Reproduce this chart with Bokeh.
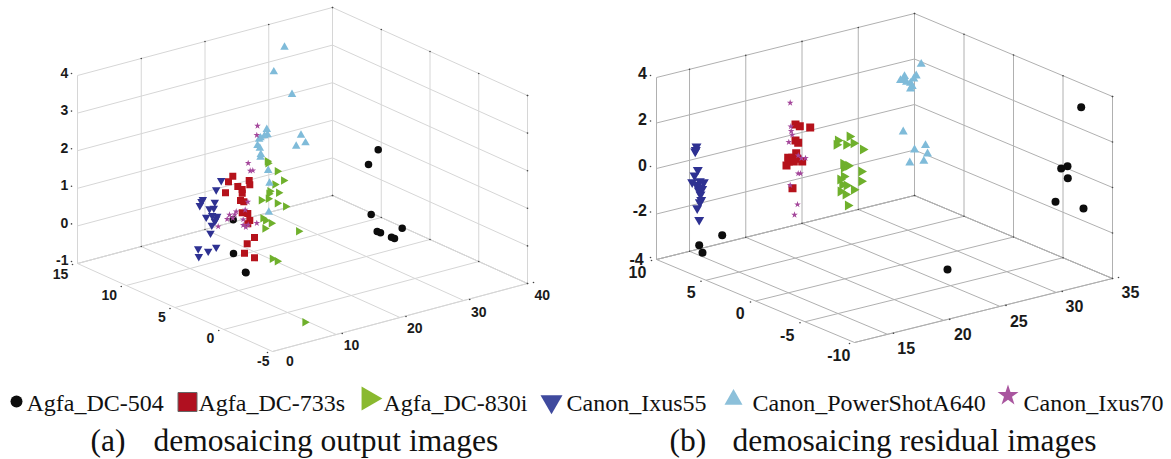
import math
from bokeh.plotting import figure
from bokeh.models import Range1d
from bokeh.core.properties import value
from bokeh.embed import file_html
from bokeh.resources import INLINE

# ---- series (horizontal / vertical plot position) ----
a_black_h = [377.7,368,370.7,401.7,376.7,380,391,394,232.7,233,245,245.5]
a_black_v = [149.3,164,214,227.7,231,232.3,236.7,238,219.3,253,271.7,272.3]
a_red_h = [232.3,228,248.7,249.3,237.3,241.7,241.7,225,240,243.3,241.7,247.3,249.3,247.3,254,246.7,244,254]
a_red_v = [175.7,181.3,180,184.3,186,189,192.7,192.3,200,201.3,212.3,213,220,223.3,237,243.3,252.7,257.3]
a_green_h = [266.7,267.3,276.7,283,274.3,269.3,268.3,278,267.7,260.7,276.7,285,262.3,265,270.7,264.3,298,271.7,276.7,304.3]
a_green_v = [160.7,162.7,170.7,180,184,190.7,193.3,192.3,198.3,199.7,202.7,206,217.7,220,222.7,228,230.7,258.3,260.7,321.7]
a_blue_h = [220.7,215.7,202.3,201,199.3,214.3,213.3,209,216.7,211.7,205.7,215.7,214.3,211.3,210,215.7,197.7,207.7,198.3]
a_blue_v = [180,189.3,199,201,205,201.7,207.7,208.3,215.7,215,216.7,218.3,220.7,224.7,232.7,246.7,248.3,250.7,256]
a_sky_h = [284,273.3,291.5,300.5,305,295.7,266.3,267,264,260,258.7,257,259.3,260.3,260,267.7,269,268.3]
a_sky_v = [46.7,71.3,94,134.7,142.3,145.7,129,134.3,135.3,137.3,138.7,145,147.7,154,156.7,170,182.7,211.7]
a_star_h = [257,256.3,247.7,252.3,249.7,247.3,235.7,234.3,229,226.7,232.3,244.7,242.7,247.7,242.7,245.3,256.3,217.7]
a_star_v = [125.3,134.7,162.7,170,170.3,201.3,211,214,214.3,218.7,217.7,209.3,219,224.3,224.7,226.7,222.7,226]

b_black_h = [721.7,698.7,702,947,1080.7,1067,1060.7,1067.3,1055,1083]
b_black_v = [234.7,244.7,252.3,269,106.7,165.7,168,177.7,201.3,208]
b_red_h = [795,799.3,809.7,795,797.7,795.7,787.7,791.7,796.7,788.3,793.3,801.7,786,792]
b_red_v = [124,125.7,127,140,142.3,152.7,157.3,157.3,158.3,161,161,161,165,187.7]
b_green_h = [849,837.3,836,845.7,853,862.3,842.7,847.7,843.3,860.7,843.3,839.7,860.7,841.7,846,853.3,840,845,847.3]
b_green_v = [136,140,144.3,144.3,142.7,149,163.3,165.3,167.3,171,176,179,180.7,184.3,185,189.3,191,194,205]
b_blue_h = [696,695.3,694.7,697.3,694,699.3,691.7,703.3,696,700,701.7,698.3,700,700.7,699.3,696.7,698.7]
b_blue_v = [146,149.3,151,169.3,175,180.7,181.7,181.7,184.3,186.7,188.3,190,194,199.3,201.7,207.7,219.3]
b_sky_h = [920.7,915.7,913.3,904,900,903.3,906,910,911.7,910,902.7,925,914,927,923.3,909.3]
b_sky_v = [63.7,75.3,78.3,76,80,80,81.7,82.7,86,88.3,131.3,145,149.3,153.3,160.7,162.3]
b_star_h = [789.7,790.3,790.7,791.7,788.3,797.7,801,805,797.7,800,789.7,797,794]
b_star_v = [102.3,126,130.7,134.3,141.7,155,157.7,157.7,173,173,184.7,204,214.3]

# ---- tick labels ----
a_z_labels = ["4","3","2","1","0","-1"]
a_y_labels = ["15","10","5","0","-5"]
a_x_labels = ["0","10","20","30","40"]
b_z_labels = ["4","2","0","-2","-4"]
b_y_labels = ["10","5","0","-5","-10"]
b_x_labels = ["15","20","25","30","35"]

series_names = ["Agfa_DC-504","Agfa_DC-733s","Agfa_DC-830i","Canon_Ixus55","Canon_PowerShotA640","Canon_Ixus70"]
caption_a = ["(a)", "demosaicing output images"]
caption_b = ["(b)", "demosaicing residual images"]

BLACK, RED, GREEN, BLUE, SKY, PURPLE = "#0d0d0d", "#b5121b", "#6fb02c", "#2e3192", "#7fbbd9", "#a4479b"

p = figure(width=1171, height=459, x_range=Range1d(0, 1171), y_range=Range1d(459, 0),
           toolbar_location=None, output_backend="svg", min_border=0)
p.axis.visible = False
p.grid.visible = False
p.outline_line_color = None
p.background_fill_color = "white"
p.border_fill_color = "white"

def lerp(a, b, t):
    return (a[0] + (b[0]-a[0])*t, a[1] + (b[1]-a[1])*t)

def cube(A, F, R, H, z_t, y_t, xw_t, color):
    """Draw walls + floor of a 3-D box. A left, F front, R right (floor), H = height."""
    B = (A[0]+R[0]-F[0], A[1]+R[1]-F[1])
    xs, ys = [], []
    def seg(a, b):
        xs.append([a[0], b[0]]); ys.append([a[1], b[1]])
    seg(A, F); seg(F, R)
    for t in z_t:
        seg((A[0], A[1]-H*t), (B[0], B[1]-H*t))
        seg((B[0], B[1]-H*t), (R[0], R[1]-H*t))
    seg(A, B); seg(B, R)
    seg(A, (A[0], A[1]-H))
    for t in xw_t:
        w = lerp(A, B, t)
        seg(w, (w[0], w[1]-H))
        f = lerp(F, R, t)
        seg(f, w)
    for t in y_t:
        w = lerp(B, R, t)
        seg(w, (w[0], w[1]-H))
        f = lerp(A, F, t)
        seg(f, w)
    p.multi_line(xs, ys, line_color=color, line_width=1)
    dots_x, dots_y = [], []
    for t in xw_t:
        w = lerp(A, B, t)
        dots_x.append(w[0]); dots_y.append(w[1]-H)
        dots_x.append(w[0]); dots_y.append(w[1])
        f = lerp(F, R, t)
        dots_x.append(f[0]+6); dots_y.append(f[1]-1)
    for t in y_t:
        w = lerp(B, R, t)
        dots_x.append(w[0]); dots_y.append(w[1]-H)
        dots_x.append(w[0]); dots_y.append(w[1])
        f = lerp(A, F, t)
        dots_x.append(f[0]-5); dots_y.append(f[1]+1)
    for t in z_t:
        dots_x.append(A[0]-6); dots_y.append(A[1]-H*t-2)
        dots_x.append(R[0]); dots_y.append(R[1]-H*t)
    p.scatter(dots_x, dots_y, marker="circle", size=1.6, fill_color="#444444", line_color=None)

# panel (a)
cube((77,263), (272,351), (527,283), 188,
     [0,.2,.4,.6,.8,1], [0,.25,.5,.75,1], [.25,.5,.75,1], "#d6d6d6")
# panel (b)
xt = [.128,.346,.564,.782,1]
cube((656,259), (854,342), (1112,278), 182,
     [0,.25,.5,.75,1], [0,.25,.5,.75,1], xt, "#b0b0b0")

def labels(x, y, t, size, weight="bold", font="Liberation Sans", color="#1a1a1a", align="center", base="middle"):
    p.text(x, y, text=t, text_font=value(font), text_font_size=size, text_font_style=weight,
           text_align=align, text_baseline=base, text_color=color)

labels([64,64,64,64,64,61.7],[72,109,147,184,222,259],a_z_labels,"14px")
labels([60,108.7,161.3,210,262.7],[273,294,316.7,337,360],a_y_labels,"14px")
labels([289.3,351,414.3,478.3,541.7],[360.7,344,327.7,311,294.3],a_x_labels,"14px")
labels([642,642,642,639.3,636],[72.7,118.3,164,209.3,258],b_z_labels,"16px")
labels([637,690.7,739.7,786.7,838.3],[271,291,312.3,334,354.3],b_y_labels,"16px")
labels([905.7,962.3,1018.3,1074,1130],[347,333.3,320,305,291],b_x_labels,"16px")

R_ANG = -math.pi/2
def series(h, v, marker, size, color, angle=0.0, edge=None):
    p.scatter(h, v, marker=marker, size=size, fill_color=color, line_color=edge, angle=angle)

series(a_black_h, a_black_v, "circle", 7.5, BLACK)
series(a_red_h, a_red_v, "square", 7, RED)
series(a_green_h, a_green_v, "triangle", 8.5, GREEN, R_ANG)
series(a_blue_h, a_blue_v, "inverted_triangle", 8.5, BLUE)
series(a_sky_h, a_sky_v, "triangle", 8.5, SKY)
series(a_star_h, a_star_v, "star", 7, PURPLE)

series(b_black_h, b_black_v, "circle", 8, BLACK)
series(b_red_h, b_red_v, "square", 8, RED)
series(b_green_h, b_green_v, "triangle", 10, GREEN, R_ANG)
series(b_blue_h, b_blue_v, "inverted_triangle", 10, BLUE)
series(b_sky_h, b_sky_v, "triangle", 9, SKY)
series(b_star_h, b_star_v, "star", 7, PURPLE)

# legend row
series([16], [401], "circle", 12, BLACK)
series([187], [401.5], "square", 19, "#b01020", edge="#666666")
series([368], [398], "triangle", 24, "#8ab92f", R_ANG)
series([551], [401], "inverted_triangle", 22, "#3f4a9e")
series([733], [399], "triangle", 18, "#8cc0da")
series([1007.5], [395], "star", 22, "#a9569f")
labels([26,198,383,566,752,1023],[402]*6,series_names,"24px","normal","Liberation Serif","#111111","left","alphabetic")

# captions
labels([90,153],[440,440],caption_a,"31.5px","normal","Liberation Serif","#111111","left","alphabetic")
labels([669,732],[440,440],caption_b,"31.5px","normal","Liberation Serif","#111111","left","alphabetic")

open("out.html", "w").write(file_html(p, INLINE))
